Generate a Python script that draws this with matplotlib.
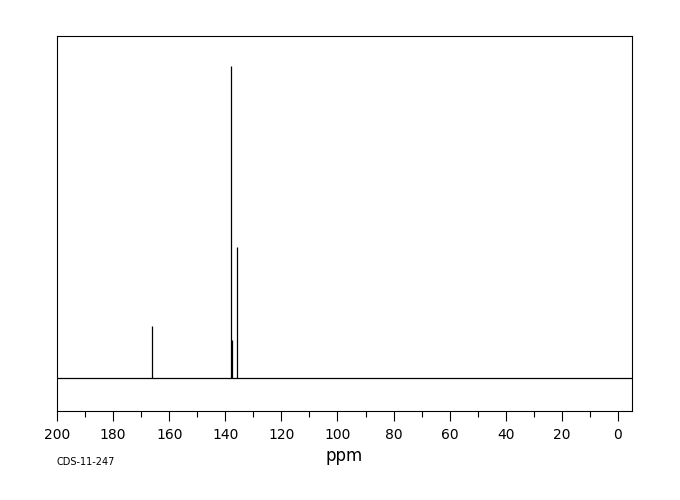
import numpy as np
import matplotlib
matplotlib.use("Agg")
import matplotlib.pyplot as plt

# peak positions (ppm) and relative intensities
shifts = [166.0, 138.1, 137.7, 135.8]
heights = [16.7, 100.0, 12.2, 42.0]

xmax, xmin = 200, -5
major_ticks = np.arange(0, 201, 20)
minor_ticks = np.arange(0, 201, 10)

fig = plt.figure(figsize=(6.8, 5.0), dpi=100)
ax = fig.add_axes([57 / 680, 89 / 500, 575 / 680, 375 / 500])

# baseline plus stick peaks
ax.plot([xmax, xmin], [0, 0], color="black", lw=0.9)
ax.vlines(shifts, 0, heights, color="black", lw=0.9)

ax.set_xlim(xmax, xmin)
ax.set_ylim(-10.6, 109.6)
ax.set_yticks([])
ax.set_xticks(major_ticks)
ax.set_xticks(minor_ticks, minor=True)
ax.tick_params(axis="x", which="major", direction="out", length=7.5, width=0.8,
               pad=5, labelsize=10)
ax.tick_params(axis="x", which="minor", direction="out", length=4.5, width=0.8)
for s in ax.spines.values():
    s.set_linewidth(0.8)

ax.set_xlabel("ppm", fontsize=12, labelpad=3)
fig.text(57 / 680, 1 - 462 / 500, "CDS-11-247", fontsize=7, va="center", ha="left")

fig.savefig("out.png", dpi=100)
